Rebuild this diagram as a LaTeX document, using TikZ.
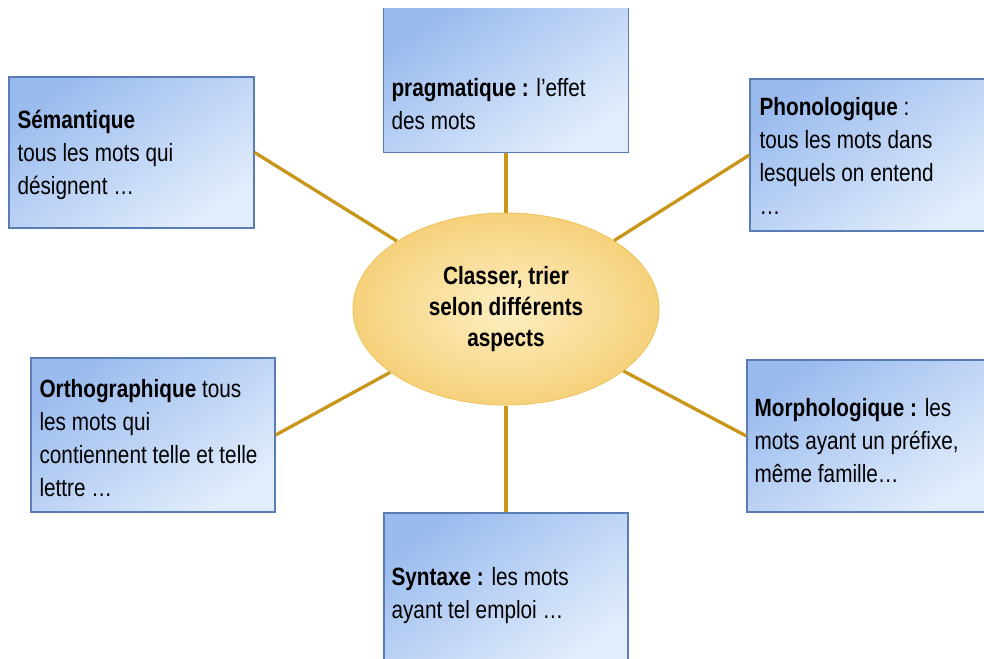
\documentclass[tikz,border=0pt]{standalone}
\usepackage{fontspec}
\setmainfont{Liberation Sans}[FakeStretch=0.83]
\usetikzlibrary{shapes.geometric}
\definecolor{boxdark}{HTML}{9ABBEE}
\definecolor{boxlight}{HTML}{E2EDFC}
\definecolor{boxline}{HTML}{5A7CB4}
\definecolor{gold}{HTML}{C9961A}
\definecolor{elin}{HTML}{FDEFC2}
\definecolor{elout}{HTML}{F6D17B}
\definecolor{elline}{HTML}{EFC767}
\begin{document}
\begin{tikzpicture}[x=1pt,y=-1pt,
  topic/.style={rectangle, draw=boxline, line width=1.3pt, top color=boxdark, bottom color=boxlight, shading angle=35, minimum width=245pt, minimum height=151pt, inner sep=0pt},
  topicopen/.style={topic, draw=none},
  lbl/.style={anchor=west, align=left, inner sep=0pt, font=\fontsize{25}{33}\selectfont, text=black},
  link/.style={draw=gold, line width=3.3pt},
  hub/.style={ellipse, draw=elline, line width=1pt, inner color=elin, outer color=elout, minimum width=306pt, minimum height=192pt, inner sep=0pt, align=center, font=\bfseries\fontsize{25}{31}\selectfont, text=black}]
\useasboundingbox (0,0) rectangle (984,658);
\clip (0,0) rectangle (984,658);

% boxes
\node[topic] (sem) at (131.5,152.5) {};
\node[topicopen, minimum width=244pt, minimum height=143pt] (prag) at (506,80.5) {};
\draw[draw=boxline, line width=1.3pt] (prag.north west) -- (prag.south west) -- (prag.south east) -- (prag.north east);
\node[topic, minimum height=152pt] (phon) at (872.5,155) {};
\node[topic, minimum width=244pt, minimum height=154pt] (orth) at (153,435) {};
\node[topic, minimum height=152pt] (morph) at (869.5,436) {};
\node[topic, minimum width=244pt, minimum height=152pt] (synt) at (506,589) {};

% hub
\node[hub] (hub) at (506,309) {Classer, trier\\selon différents\\aspects};

% connectors
\draw[link] (sem.east) -- (hub);
\draw[link] (prag.south) -- (hub.north);
\draw[link] (phon.west) -- (hub);
\draw[link] (orth.east) -- (hub);
\draw[link] (morph.west) -- (hub);
\draw[link] (synt.north) -- (hub.south);

% texts
\node[lbl] (semt) at ([xshift=9pt,yshift=-2pt]sem.west) {\textbf{Sémantique}\\tous les mots qui\\désignent …};
\node[lbl] (pragt) at ([xshift=8pt,yshift=-23.5pt]prag.west) {\textbf{pragmatique :} l’effet\\des mots};
\node[lbl] (phont) at ([xshift=10pt,yshift=-1pt]phon.west) {\textbf{Phonologique} :\\tous les mots dans\\lesquels on entend\\…};
\node[lbl] (ortht) at ([xshift=9pt,yshift=-3pt]orth.west) {\textbf{Orthographique} tous\\les mots qui\\contiennent telle et telle\\lettre …};
\node[lbl] (morpht) at ([xshift=8pt,yshift=-5pt]morph.west) {\textbf{Morphologique :} les\\mots ayant un préfixe,\\même famille…};
\node[lbl] (syntt) at ([xshift=8pt,yshift=-7pt]synt.west) {\textbf{Syntaxe :} les mots\\ayant tel emploi …};
\end{tikzpicture}
\end{document}
